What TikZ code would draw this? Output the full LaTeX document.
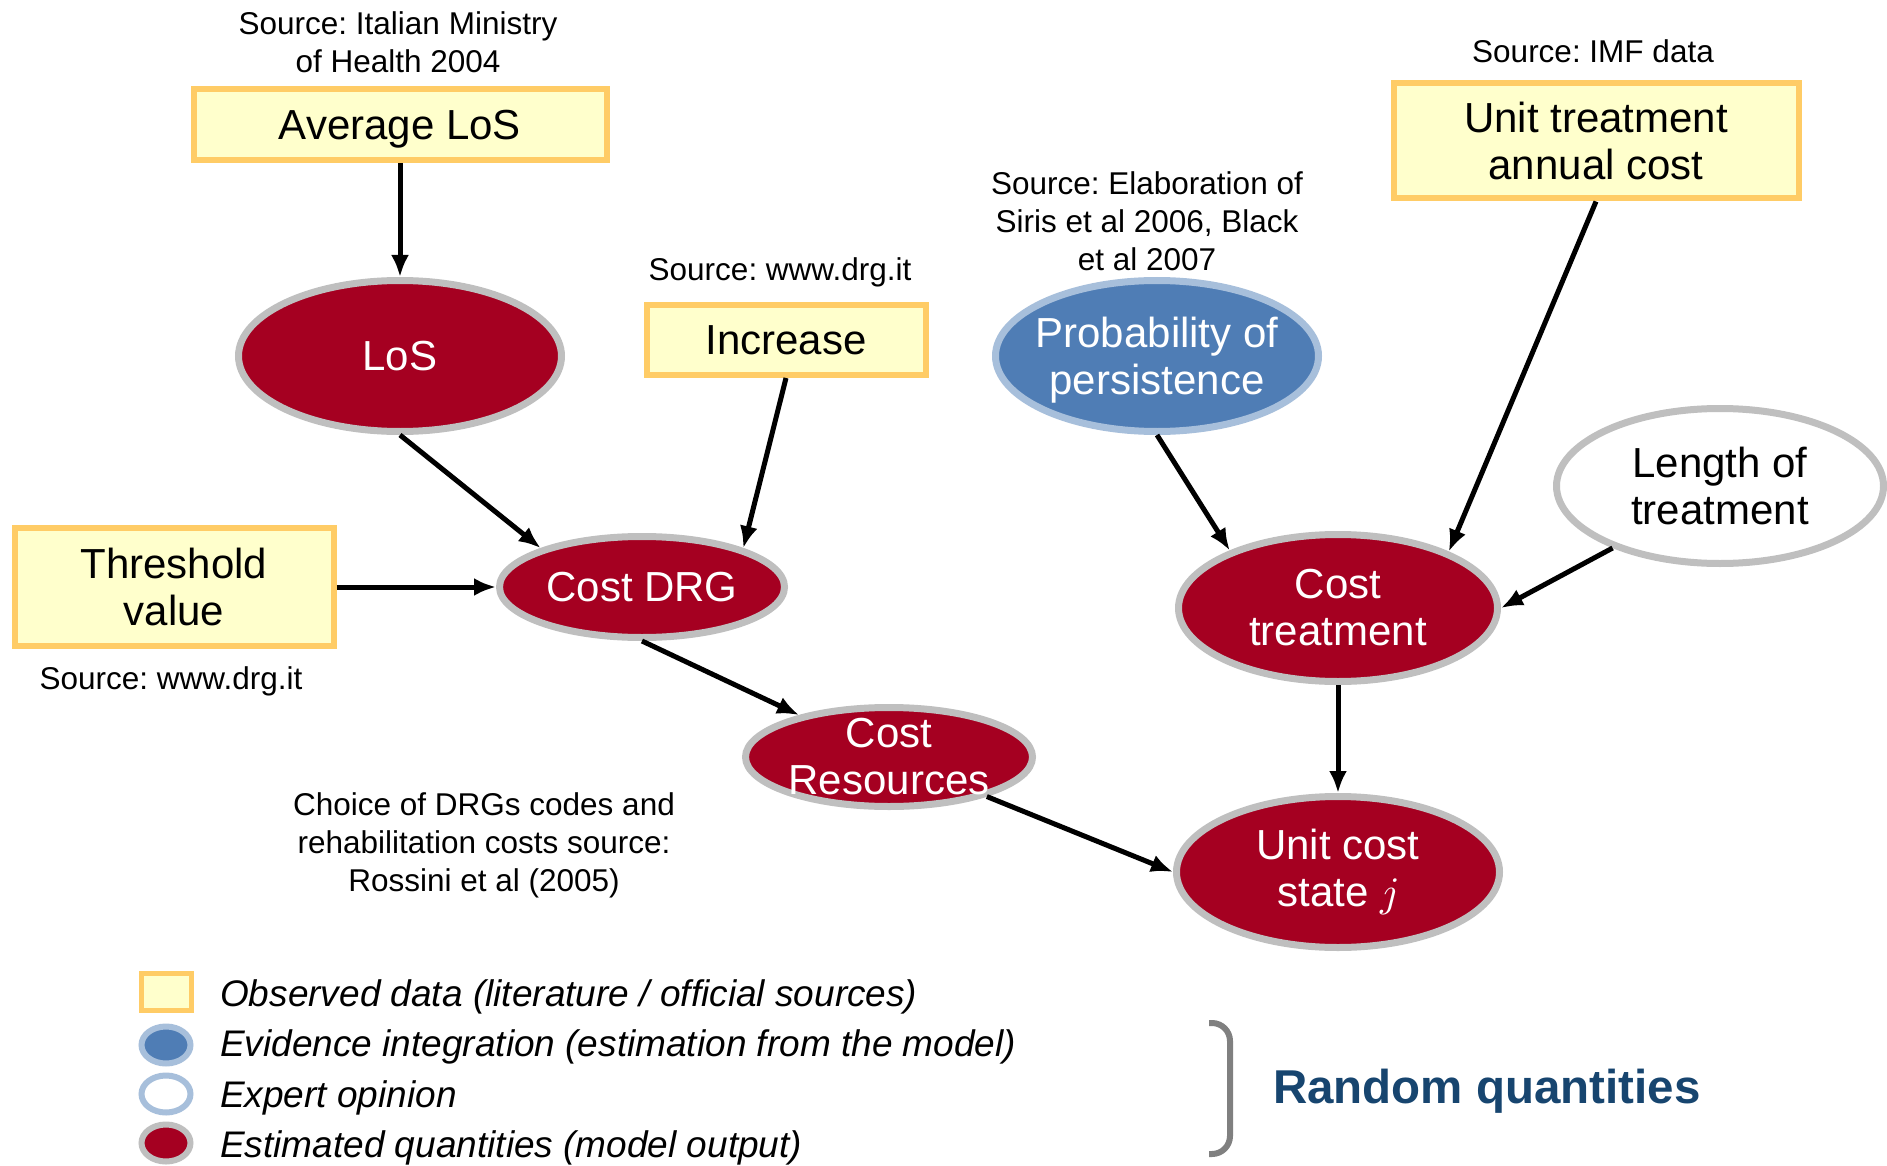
\documentclass[tikz,border=0pt]{standalone}
\usepackage{fontspec}
\usepackage{unicode-math}
\setmainfont{Liberation Sans}
\setmathfont{Latin Modern Math}
\frenchspacing
\usetikzlibrary{shapes.geometric,arrows.meta}

\definecolor{obsfill}{HTML}{FFFFCC}
\definecolor{obsdraw}{HTML}{FFCC66}
\definecolor{estfill}{HTML}{A50021}
\definecolor{greyrim}{HTML}{BFBFBF}
\definecolor{evifill}{HTML}{4F7DB5}
\definecolor{evirim}{HTML}{A7BFDB}
\definecolor{navy}{HTML}{17456F}

\tikzset{
  big/.style={font=\fontsize{42}{47}\selectfont, align=center},
  obsbox/.style={big, rectangle, draw=obsdraw, fill=obsfill, line width=6pt, inner sep=0pt},
  % negative inner sep keeps each ellipse at its minimum size
  estnode/.style={big, ellipse, draw=greyrim, fill=estfill, text=white, line width=7pt, inner sep=-60pt},
  evinode/.style={big, ellipse, draw=evirim, fill=evifill, text=white, line width=7pt, inner sep=-60pt},
  expnode/.style={big, ellipse, draw=greyrim, fill=white, text=black, line width=7pt, inner sep=-60pt},
  srctext/.style={font=\fontsize{31.5}{38}\selectfont, align=center, inner sep=0pt},
  legtext/.style={font=\fontsize{37}{44}\selectfont\itshape, anchor=west, inner sep=0pt},
  link/.style={line width=5pt, -{Latex[length=22pt,width=18pt]}},
}

\begin{document}
\begin{tikzpicture}[x=1pt, y=-1pt]
\useasboundingbox (0,0) rectangle (1887,1166);

% observed data boxes
\node[obsbox, minimum width=413pt, minimum height=71pt, text depth=0pt] (avg) at (400,125) {Average LoS};
\node[obsbox, minimum width=279pt, minimum height=70pt] (inc) at (786,340) {Increase};
\node[obsbox, minimum width=405pt, minimum height=115pt] (utc) at (1596,141) {Unit treatment\\annual cost};
\node[obsbox, minimum width=319pt, minimum height=118pt] (thr) at (174,587) {Threshold\\value};

% random quantities
\node[estnode, minimum width=323pt, minimum height=151pt] (los) at (400,356) {LoS};
\node[evinode, minimum width=323pt, minimum height=151pt] (prob) at (1157,356) {\raisebox{-16pt}[0pt][0pt]{\begin{tabular}{@{}c@{}}Probability of\\persistence\end{tabular}}};
\node[expnode, minimum width=327pt, minimum height=155pt] (len) at (1720,486) {Length of\\treatment};
\node[estnode, minimum width=285pt, minimum height=101pt] (drg) at (642,587) {Cost DRG};
\node[estnode, minimum width=287pt, minimum height=99pt] (res) at (889,757) {Cost\\Resources};
\node[estnode, minimum width=319pt, minimum height=147pt] (ct) at (1338,608) {Cost\\treatment};
\node[estnode, minimum width=323pt, minimum height=151pt] (unit) at (1338,872) {Unit cost\\state $j$};

% sources
\node[srctext] (s1) at (398,42) {Source: Italian Ministry\\of Health 2004};
\node[srctext] (s2) at (780,272) {Source: www.drg.it};
\node[srctext] (s3) at (1147,221) {Source: Elaboration of\\Siris et al 2006, Black\\et al 2007};
\node[srctext] (s4) at (1593,51) {Source: IMF data};
\node[srctext] (s5) at (171,681) {Source: www.drg.it};
\node[srctext] (s6) at (484,845) {Choice of DRGs codes and\\rehabilitation costs source:\\Rossini et al (2005)};

% connectors
\draw[link] (avg.south) -- (los.north);
\draw[link] (los.south) -- (drg.159);
\draw[link] (inc.south) -- (drg.21);
\draw[link] (thr.east) -- (drg.west);
\draw[link] (drg.south) -- (res.155);
\draw[link] (res.-22) -- (unit.west);
\draw[link] (prob.south) -- (ct.152);
\draw[link] (utc.south) -- (ct.27);
\draw[link] (len.210) -- (ct.east);
\draw[link] (ct.south) -- (unit.north);

% legend
\node[rectangle, draw=obsdraw, fill=obsfill, line width=5pt, minimum width=50pt, minimum height=37pt, inner sep=0pt] (k1) at (166,992) {};
\node[ellipse, draw=evirim, fill=evifill, line width=6pt, minimum width=49pt, minimum height=37pt, inner sep=0pt] (k2) at (166,1045) {};
\node[ellipse, draw=evirim, fill=white, line width=6pt, minimum width=49pt, minimum height=37pt, inner sep=0pt] (k3) at (166,1094) {};
\node[ellipse, draw=greyrim, fill=estfill, line width=6pt, minimum width=49pt, minimum height=37pt, inner sep=0pt] (k4) at (166,1143) {};
\node[legtext] (l1) at (220,997) {Observed data (literature / official sources)};
\node[legtext] (l2) at (220,1047) {Evidence integration (estimation from the model)};
\node[legtext] (l3) at (220,1098) {Expert opinion};
\node[legtext] (l4) at (220,1148) {Estimated quantities (model output)};

% bracket and group label
\draw[line width=6pt, draw=gray, rounded corners=18pt] (1209,1023) -- (1230,1023) -- (1230,1154) -- (1209,1154);
\node[font=\fontsize{47.5}{54}\selectfont\bfseries, text=navy, anchor=west, inner sep=0pt] (rq) at (1273,1091) {Random quantities};
\end{tikzpicture}
\end{document}
